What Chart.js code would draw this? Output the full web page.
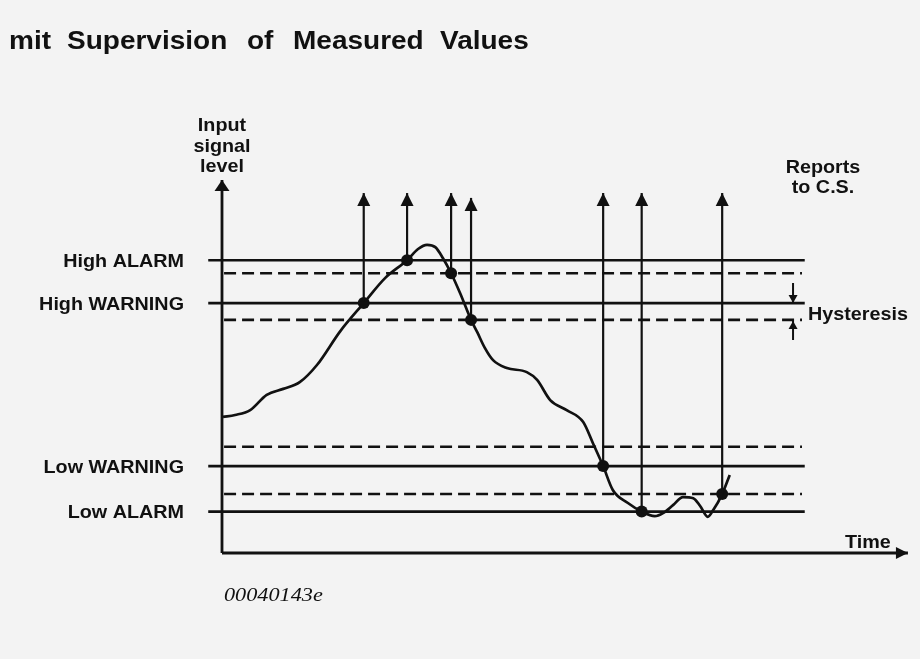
<!DOCTYPE html>
<html>
<head>
<meta charset="utf-8">
<script src="https://cdn.jsdelivr.net/npm/chart.js@4/dist/chart.umd.min.js"></script>
<style>
  body { margin: 0; background: #f3f3f3; }
  canvas { display: block; }
</style>
</head>
<body>
<canvas id="limitChart" width="920" height="659"></canvas>
<script>
// signal curve (time 0..100, level 0..100)
const curveTime = [0.15, 1.9, 4.1, 6.5, 8.9, 11.3, 13.8, 17.2, 20.6, 23.7, 26.9, 28.5, 29.8, 31.0, 32.1, 33.3, 34.6, 36.2, 37.1, 38.2, 39.4, 41.4, 44.3, 45.8, 47.7, 50.1, 52.5, 53.9, 55.4, 56.8, 59.0, 61.0, 62.9, 64.1, 65.6, 67.0, 68.5, 69.5, 70.6, 71.4, 72.7, 73.8];
const curveLevel = [36.5, 37.0, 38.3, 42.4, 44.0, 45.8, 50.4, 59.5, 67.0, 73.7, 78.5, 81.5, 82.6, 82.0, 79.1, 75.0, 69.7, 62.5, 59.2, 55.0, 51.7, 49.6, 48.5, 46.4, 41.0, 38.3, 35.1, 29.5, 23.3, 16.9, 13.4, 11.1, 9.9, 10.7, 12.9, 15.0, 14.7, 12.6, 9.7, 11.5, 15.8, 20.9];

// limits (solid) and their hysteresis reset levels (dashed)
const limitNames = ["High ALARM", "High WARNING", "Low WARNING", "Low ALARM"];
const limitLevels = [78.5, 67, 23.3, 11.1];
const resetLevels = [75, 62.5, 28.5, 15.8];

// reports to C.S. (crossing points and arrow tips)
const reportTime = [20.6, 26.9, 33.3, 36.2, 55.4, 61.0, 72.7];
const reportLevel = [67, 78.5, 75, 62.5, 23.3, 11.1, 15.8];
const reportTip = [96.5, 96.5, 96.5, 95.2, 96.5, 96.5, 96.5];

const ink = "#111111";
const limitFrom = -2.0, limitTo = 84.7;
const resetFrom = 0.3, resetTo = 84.3;
const hystTime = 83;

function seg(x1, y1, x2, y2) {
    return [{ x: x1, y: y1 }, { x: x2, y: y2 }];
}

const datasets = [];

// axes
datasets.push({ data: seg(0, 0, 0, 100), borderWidth: 2.8 });
datasets.push({ data: seg(0, 0, 99.7, 0), borderWidth: 2.8 });

limitLevels.forEach(lvl => {
    datasets.push({ data: seg(limitFrom, lvl, limitTo, lvl), borderWidth: 2.6 });
});
resetLevels.forEach(lvl => {
    datasets.push({ data: seg(resetFrom, lvl, resetTo, lvl), borderWidth: 2.6, borderDash: [12, 6] });
});

reportTime.forEach((t, i) => {
    datasets.push({ data: seg(t, reportLevel[i], t, reportTip[i]), borderWidth: 2.2 });
});

// hysteresis marker
datasets.push({ data: seg(hystTime, 72.4, hystTime, limitLevels[1]), borderWidth: 2 });
datasets.push({ data: seg(hystTime, 57.1, hystTime, resetLevels[1] - 0.3), borderWidth: 2 });

datasets.push({
    data: curveTime.map((t, i) => ({ x: t, y: curveLevel[i] })),
    borderWidth: 2.7,
    cubicInterpolationMode: "monotone"
});

datasets.push({
    data: reportTime.map((t, i) => ({ x: t, y: reportLevel[i] })),
    showLine: false,
    pointRadius: 6,
    pointBackgroundColor: ink,
    pointBorderWidth: 0
});

datasets.forEach(d => {
    d.borderColor = ink;
    d.clip = false;
    if (d.showLine === undefined) {
        d.showLine = true;
        d.pointRadius = 0;
    }
});

function tri(ctx, px, py, dir, len, half) {
    ctx.beginPath();
    ctx.moveTo(px, py);
    if (dir === "up") { ctx.lineTo(px - half, py + len); ctx.lineTo(px + half, py + len); }
    if (dir === "down") { ctx.lineTo(px - half, py - len); ctx.lineTo(px + half, py - len); }
    if (dir === "right") { ctx.lineTo(px - len, py - half); ctx.lineTo(px - len, py + half); }
    ctx.closePath();
    ctx.fill();
}

function txt(ctx, s, x, y, font, sx, align) {
    ctx.save();
    ctx.font = font;
    const w = ctx.measureText(s).width * sx;
    let x0 = x;
    if (align === "right") x0 = x - w;
    if (align === "center") x0 = x - w / 2;
    ctx.translate(x0, y);
    ctx.scale(sx, 1);
    ctx.textAlign = "left";
    ctx.textBaseline = "alphabetic";
    ctx.fillText(s, 0, 0);
    ctx.restore();
}

const decorations = {
    id: "decorations",
    afterDatasetsDraw(chart) {
        const ctx = chart.ctx;
        const xs = chart.scales.x, ys = chart.scales.y;
        ctx.save();
        ctx.fillStyle = ink;

        tri(ctx, xs.getPixelForValue(0), ys.getPixelForValue(100), "up", 11, 7.5);
        tri(ctx, xs.getPixelForValue(99.7), ys.getPixelForValue(0), "right", 12, 6);

        reportTime.forEach((t, i) => {
            tri(ctx, xs.getPixelForValue(t), ys.getPixelForValue(reportTip[i]), "up", 13, 6.5);
        });

        tri(ctx, xs.getPixelForValue(hystTime), ys.getPixelForValue(limitLevels[1]), "down", 8, 4.5);
        tri(ctx, xs.getPixelForValue(hystTime), ys.getPixelForValue(resetLevels[1] - 0.3), "up", 8, 4.5);

        const label = "bold 19px 'Liberation Sans', Arial, sans-serif";
        limitNames.forEach((name, i) => {
            txt(ctx, name, 184, ys.getPixelForValue(limitLevels[i]) + 6.5, label, 1.04, "right");
        });

        const yAxisX = xs.getPixelForValue(0);
        txt(ctx, "Input", yAxisX, 131, label, 1.04, "center");
        txt(ctx, "signal", yAxisX, 152, label, 1.04, "center");
        txt(ctx, "level", yAxisX, 172, label, 1.04, "center");

        txt(ctx, "Reports", 823, 173, label, 1.04, "center");
        txt(ctx, "to C.S.", 823, 193, label, 1.04, "center");
        txt(ctx, "Hysteresis", 808, 320, label, 1.04, "left");
        txt(ctx, "Time", 845, 548, label, 1.04, "left");

        const title = "bold 25px 'Liberation Sans', Arial, sans-serif";
        const words = ["mit", "Supervision", "of", "Measured", "Values"];
        const wordX = [9, 67, 247, 293, 440];
        words.forEach((w, i) => txt(ctx, w, wordX[i], 49, title, 1.12, "left"));

        txt(ctx, "00040143e", 224, 601, "italic 19px 'Liberation Serif', 'Times New Roman', serif", 1.17, "left");
        ctx.restore();
    }
};

new Chart(document.getElementById("limitChart"), {
    type: "scatter",
    data: { datasets: datasets },
    options: {
        responsive: false,
        animation: false,
        devicePixelRatio: 1,
        layout: { padding: { left: 222, right: 10, top: 180, bottom: 106 } },
        scales: {
            x: { type: "linear", min: 0, max: 100, display: false },
            y: { type: "linear", min: 0, max: 100, display: false }
        },
        plugins: {
            legend: { display: false },
            tooltip: { enabled: false }
        }
    },
    plugins: [decorations]
});
</script>
</body>
</html>
